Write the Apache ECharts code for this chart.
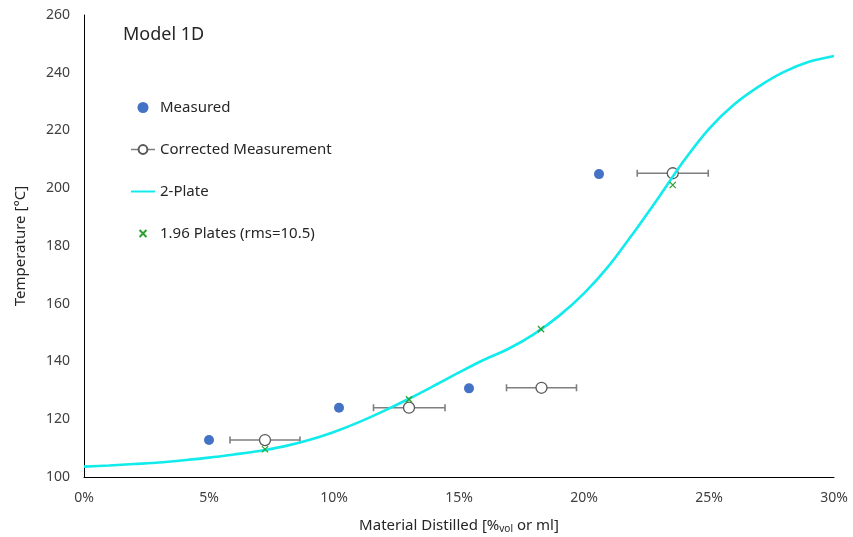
<!DOCTYPE html>
<html><head><meta charset="utf-8">
<script src="https://cdn.jsdelivr.net/npm/echarts@6/dist/echarts.min.js"></script>
<style>html,body{margin:0;padding:0;background:#fff}#c{width:853px;height:537px}</style>
</head><body><div id="c"></div>
<script>
const xTicks = [0, 5, 10, 15, 20, 25, 30];
const yTicks = [100, 120, 140, 160, 180, 200, 220, 240, 260];
const measuredX = [5.0, 10.2, 15.4, 20.6];
const measuredY = [112.8, 124.0, 130.7, 204.9];
const correctedX = [7.24, 13.0, 18.3, 23.55];
const correctedY = [112.8, 124.0, 130.9, 205.2];
const errLow = [5.84, 11.58, 16.9, 22.13];
const errHigh = [8.64, 14.44, 19.7, 24.97];
const plateX = [0, 1, 2, 3, 4, 5, 6, 7, 8, 9, 10, 11, 12, 13, 14, 15, 16, 17, 18, 19, 20, 21, 22, 23, 24, 25, 26, 27, 28, 29, 30];
const plateY = [103.6, 104.0, 104.5, 105.0, 105.8, 106.7, 107.8, 109.0, 110.6, 112.8, 115.6, 119.0, 122.9, 127.1, 131.6, 136.2, 140.6, 144.5, 149.5, 155.8, 163.6, 173.2, 184.8, 197.0, 209.6, 220.6, 229.0, 235.3, 240.3, 243.8, 245.8];
const fitX = [7.24, 13.0, 18.28, 23.55];
const fitY = [109.6, 126.9, 151.2, 201.1];
const names = ['Measured', 'Corrected Measurement', '2-Plate', '1.96 Plates (rms=10.5)'];

const zip = (a, b) => a.map((v, i) => [v, b[i]]);
const FONT = 'Noto Sans';
const chart = echarts.init(document.getElementById('c'), null, {renderer: 'canvas'});
chart.setOption({
  animation: false,
  backgroundColor: '#fff',
  textStyle: {fontFamily: FONT},
  title: {text: 'Model 1D', left: 118, top: 21, textStyle: {fontFamily: FONT, fontSize: 18, fontWeight: 'normal', color: '#262626'}},
  grid: {left: 84, right: 19, top: 15, bottom: 60, containLabel: false, outerBoundsMode: 'none'},
  legend: {
    orient: 'vertical', left: 125, top: 95, itemGap: 27, itemWidth: 24, itemHeight: 11,
    textStyle: {fontFamily: FONT, fontSize: 15, color: '#262626'},
    data: [
      {name: names[0]},
      {name: names[1], lineStyle: {color: '#7f7f7f', width: 1.5, opacity: 1}},
      {name: names[2], itemStyle: {opacity: 0}},
      {name: names[3]}
    ]
  },
  xAxis: {
    type: 'value', min: xTicks[0], max: xTicks[xTicks.length - 1], interval: 5,
    axisLine: {show: true, lineStyle: {color: '#000', width: 1}},
    axisTick: {show: false}, splitLine: {show: false},
    axisLabel: {formatter: '{value}%', fontSize: 14, color: '#404040', margin: 14, fontFamily: FONT},
    name: '{a|Material Distilled [%}{s|vol}{a| or ml]}', nameLocation: 'middle', nameGap: 40,
    nameTextStyle: {rich: {a: {fontSize: 15, color: '#262626', fontFamily: FONT}, s: {fontSize: 10, color: '#262626', fontFamily: FONT, verticalAlign: 'bottom', padding: [7, 0, 0, 0]}}}
  },
  yAxis: {
    type: 'value', min: yTicks[0], max: yTicks[yTicks.length - 1], interval: 20,
    axisLine: {show: true, lineStyle: {color: '#000', width: 1}},
    axisTick: {show: false}, splitLine: {show: false},
    axisLabel: {fontSize: 14, color: '#404040', margin: 14, fontFamily: FONT},
    name: 'Temperature [°C]', nameLocation: 'middle', nameGap: 56,
    nameTextStyle: {fontSize: 15, color: '#262626', fontFamily: FONT}
  },
  series: [
    {
      name: names[0], type: 'scatter', data: zip(measuredX, measuredY),
      symbol: 'circle', symbolSize: 10, itemStyle: {color: '#4472C4', opacity: 1}, z: 2
    },
    {
      name: 'errbars', type: 'custom', z: 2, silent: true,
      data: correctedY.map((y, i) => [errLow[i], errHigh[i], y]),
      renderItem: function (params, api) {
        const p1 = api.coord([api.value(0), api.value(2)]);
        const p2 = api.coord([api.value(1), api.value(2)]);
        const h = 3.5;
        const st = {stroke: '#7f7f7f', lineWidth: 1.6};
        return {type: 'group', children: [
          {type: 'line', shape: {x1: p1[0], y1: p1[1], x2: p2[0], y2: p2[1]}, style: st},
          {type: 'line', shape: {x1: p1[0], y1: p1[1] - h, x2: p1[0], y2: p1[1] + h}, style: st},
          {type: 'line', shape: {x1: p2[0], y1: p2[1] - h, x2: p2[0], y2: p2[1] + h}, style: st}
        ]};
      }
    },
    {
      name: names[1], type: 'line', data: zip(correctedX, correctedY), z: 3,
      symbol: 'circle', symbolSize: 11, showSymbol: true,
      lineStyle: {width: 0, opacity: 0, color: '#7f7f7f'},
      itemStyle: {color: '#fff', borderColor: '#595959', borderWidth: 1.3}
    },
    {
      name: names[2], type: 'line', data: zip(plateX, plateY), z: 4,
      smooth: 0.3, showSymbol: false, symbol: 'none',
      lineStyle: {color: '#12EBEB', width: 2.6}, itemStyle: {color: '#12EBEB'}
    },
    {
      name: names[3], type: 'scatter', data: zip(fitX, fitY), z: 5,
      symbol: 'path://M-3,-3M13,13M0,0L10,10M10,0L0,10', symbolSize: 10,
      itemStyle: {color: 'rgba(0,0,0,0)', borderColor: '#2CA02C', borderWidth: 1.2, opacity: 1}
    }
  ]
});
</script></body></html>
